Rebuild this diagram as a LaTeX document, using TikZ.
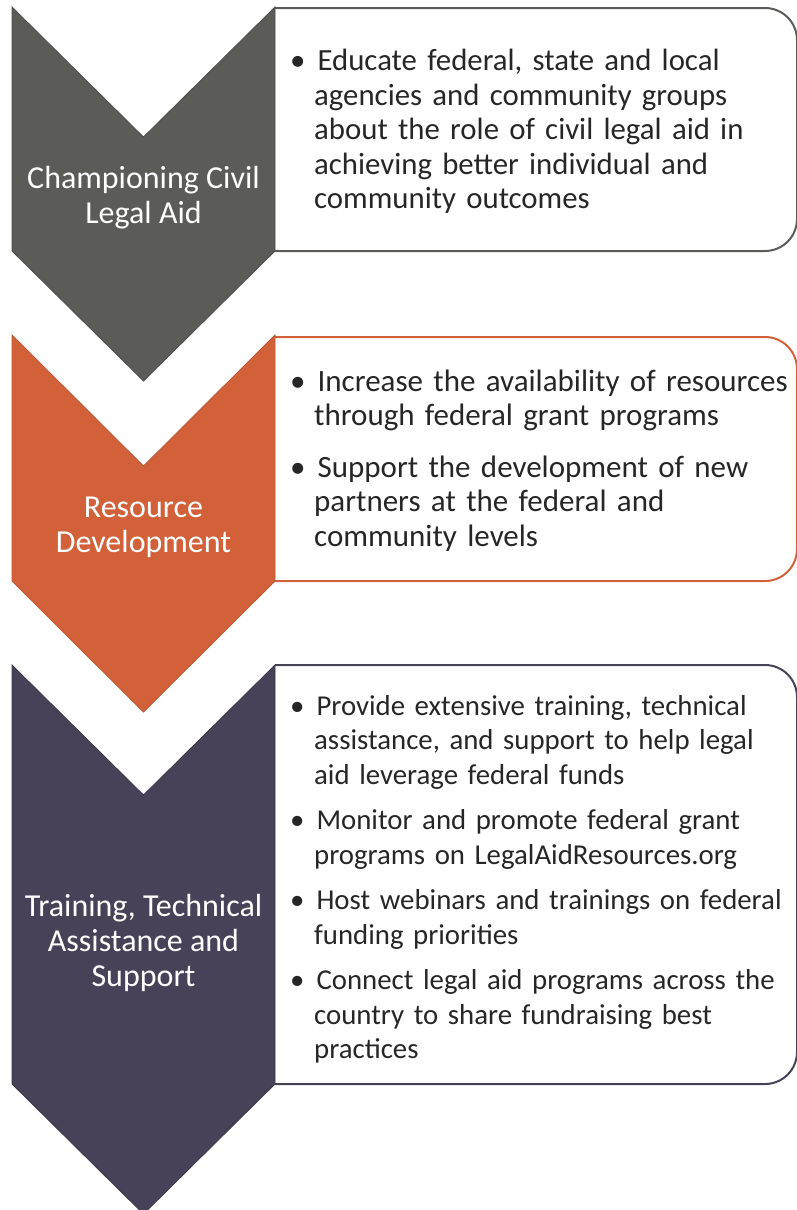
\documentclass[tikz,border=0pt]{standalone}
\usepackage{fontspec}
\setmainfont{Carlito}
\usepackage{enumitem}
\definecolor{aidgray}{RGB}{91,92,87}
\definecolor{aidorange}{RGB}{210,97,58}
\definecolor{aidpurple}{RGB}{71,66,87}
\definecolor{aidtext}{RGB}{38,38,38}
\setlist[itemize]{nosep,label=\textbullet,leftmargin=39pt,labelsep=12pt,labelwidth=12pt,align=left}
\begin{document}
\begin{tikzpicture}[x=1pt,y=-1pt,
    chevtext/.style={align=center,text=white,font=\fontsize{32}{34.75}\selectfont},
    boxtext/.style={right,inner xsep=0pt,text width=600pt,text=aidtext,font=\fontsize{#1}{34.5}\selectfont}]
\useasboundingbox (0,0) rectangle (796,1210);
% boxes
\draw[aidgray,line width=2pt,rounded corners=32pt] (275,8)--(797,8)--(797,251)--(275,251);
\draw[aidorange,line width=2pt,rounded corners=32pt] (275,337)--(797,337)--(797,581)--(275,581);
\draw[aidpurple,line width=2pt,rounded corners=32pt] (275,665)--(797,665)--(797,1084)--(275,1084);
% chevrons
\draw[fill=aidgray,draw=aidgray!85!black,line width=.8pt] (12,7)--(143.5,137)--(275,7)--(275,251)--(143.5,381)--(12,251)--cycle;
\draw[fill=aidorange,draw=aidorange!90!black,line width=.8pt] (12,335)--(143.5,466)--(275,335)--(275,581)--(143.5,712)--(12,581)--cycle;
\draw[fill=aidpurple,draw=aidpurple!85!black,line width=.8pt] (12,665)--(143.5,795)--(275,665)--(275,1084)--(143.5,1214)--(12,1084)--cycle;
\node (champion) at (143.5,198)[chevtext]{Championing Civil\\Legal Aid};
\node (resource) at (143.5,527)[chevtext]{Resource\\Development};
\node (training) at (143.5,943)[chevtext]{Training, Technical\\Assistance and\\Support};
\node (educate) at (275,125)[boxtext=30.8]{\raggedright
\begin{itemize}
\item Educate federal, state and local\\agencies and community groups\\about the role of civil legal aid in\\achieving better individual and\\community outcomes
\end{itemize}};
\node (grants) at (275,454)[boxtext=31]{\raggedright
\begin{itemize}[itemsep=17pt]
\item Increase the availability of resources\\through federal grant programs
\item Support the development of new\\partners at the federal and\\community levels
\end{itemize}};
\node (support) at (275,872)[boxtext=28.8]{\raggedright
\begin{itemize}[itemsep=11pt]
\item Provide extensive training, technical\\assistance, and support to help legal\\aid leverage federal funds
\item Monitor and promote federal grant\\programs on LegalAidResources.org
\item Host webinars and trainings on federal\\funding priorities
\item Connect legal aid programs across the\\country to share fundraising best\\practices
\end{itemize}};
\end{tikzpicture}
\end{document}
